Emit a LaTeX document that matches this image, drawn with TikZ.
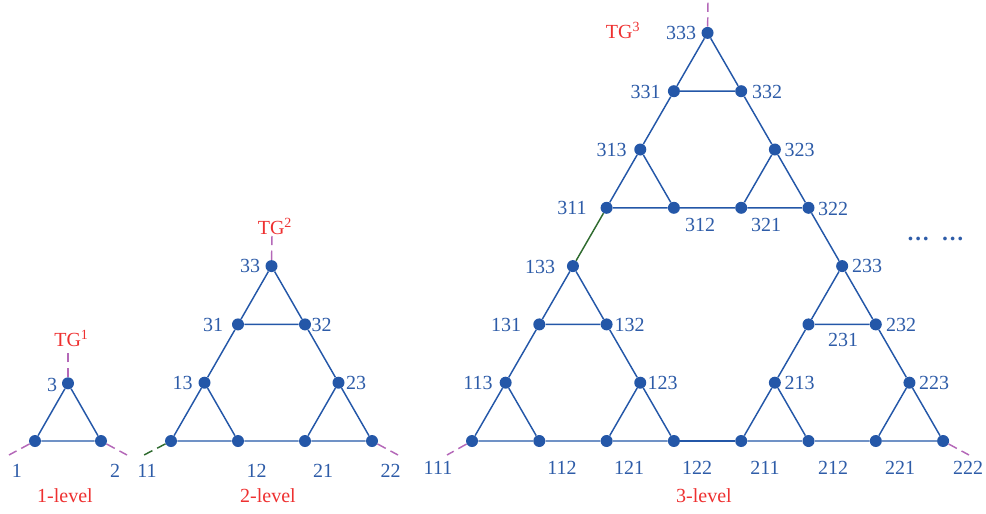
\documentclass[tikz,border=0pt]{standalone}
\usepackage{fontspec}
\setmainfont{Liberation Serif}
\definecolor{nblue}{HTML}{2457A8}
\definecolor{tblue}{HTML}{2E5CA8}
\definecolor{tred}{HTML}{EE3030}
\definecolor{spink}{HTML}{B468B8}
\definecolor{sgreen}{HTML}{2F6B2F}
\tikzset{
  dot/.style={circle,fill=nblue,inner sep=0pt,minimum size=9pt},
  lab/.style={text=tblue,inner sep=0pt,font=\fontsize{15}{18}\selectfont},
  ttl/.style={text=tred,inner sep=0pt,font=\fontsize{15}{18}\selectfont},
  edge/.style={draw=nblue,line width=1.1pt},
  bridgeg/.style={draw=sgreen,line width=1.1pt},
  stubp/.style={draw=spink,line width=1.1pt,dash pattern=on 7pt off 4pt},
  stubg/.style={draw=sgreen,line width=1.1pt,dash pattern=on 7pt off 4pt}
}
\begin{document}
\begin{tikzpicture}[x=0.75pt,y=-0.75pt]
\useasboundingbox (0,0) rectangle (986,514);
% ---------- level 1 ----------
\node[dot] (a1) at (35,441) {};
\node[dot] (a2) at (101,441) {};
\node[dot] (a3) at (68,383.3) {};
\draw[edge] (a1) -- (a2) (a2) -- (a3) (a3) -- (a1);
\coordinate (sa1) at (9,455);
\coordinate (sa2) at (127,455);
\coordinate (sa3) at (68,352);
\draw[stubp] (a1) -- (sa1);
\draw[stubp] (a2) -- (sa2);
\draw[stubp] (a3) -- (sa3);
\node[lab] (la1) at (17,471) {1};
\node[lab] (la2) at (115,471) {2};
\node[lab] (la3) at (52,385) {3};
\node[ttl] (tg1) at (71.5,338) {TG\textsuperscript{1}};
\node[ttl] (lv1) at (65,496) {1-level};
% ---------- level 2 ----------
\node[dot] (b11) at (171,441) {};
\node[dot] (b12) at (238,441) {};
\node[dot] (b21) at (305,441) {};
\node[dot] (b22) at (372,441) {};
\node[dot] (b13) at (204.5,382.7) {};
\node[dot] (b23) at (338.5,382.7) {};
\node[dot] (b31) at (238,324.4) {};
\node[dot] (b32) at (305,324.4) {};
\node[dot] (b33) at (271.5,266.1) {};
\draw[edge] (b11) -- (b12) (b12) -- (b13) (b13) -- (b11);
\draw[edge] (b21) -- (b22) (b22) -- (b23) (b23) -- (b21);
\draw[edge] (b31) -- (b32) (b32) -- (b33) (b33) -- (b31);
\draw[edge] (b12) -- (b21) (b13) -- (b31) (b23) -- (b32);
\coordinate (sb11) at (144,455);
\coordinate (sb22) at (398,455);
\coordinate (sb33) at (272,236);
\draw[stubg] (b11) -- (sb11);
\draw[stubp] (b22) -- (sb22);
\draw[stubp] (b33) -- (sb33);
\node[lab] (lb11) at (147,471) {11};
\node[lab] (lb12) at (256.5,471) {12};
\node[lab] (lb21) at (323,471) {21};
\node[lab] (lb22) at (390.5,471) {22};
\node[lab] (lb13) at (182.5,383) {13};
\node[lab] (lb23) at (356,383) {23};
\node[lab] (lb31) at (213,325) {31};
\node[lab] (lb32) at (321.5,325) {32};
\node[lab] (lb33) at (250,266) {33};
\node[ttl] (tg2) at (275,226) {TG\textsuperscript{2}};
\node[ttl] (lv2) at (268,496) {2-level};
% ---------- level 3 ----------
\node[dot] (c111) at (472,441) {};
\node[dot] (c112) at (539.3,441) {};
\node[dot] (c121) at (606.6,441) {};
\node[dot] (c122) at (673.9,441) {};
\node[dot] (c211) at (741.2,441) {};
\node[dot] (c212) at (808.5,441) {};
\node[dot] (c221) at (875.8,441) {};
\node[dot] (c222) at (943.1,441) {};
\node[dot] (c113) at (505.65,382.7) {};
\node[dot] (c123) at (640.25,382.7) {};
\node[dot] (c213) at (774.85,382.7) {};
\node[dot] (c223) at (909.45,382.7) {};
\node[dot] (c131) at (539.3,324.4) {};
\node[dot] (c132) at (606.6,324.4) {};
\node[dot] (c231) at (808.5,324.4) {};
\node[dot] (c232) at (875.8,324.4) {};
\node[dot] (c133) at (572.95,266.1) {};
\node[dot] (c233) at (842.15,266.1) {};
\node[dot] (c311) at (606.6,207.8) {};
\node[dot] (c312) at (673.9,207.8) {};
\node[dot] (c321) at (741.2,207.8) {};
\node[dot] (c322) at (808.5,207.8) {};
\node[dot] (c313) at (640.25,149.5) {};
\node[dot] (c323) at (774.85,149.5) {};
\node[dot] (c331) at (673.9,91.2) {};
\node[dot] (c332) at (741.2,91.2) {};
\node[dot] (c333) at (707.55,32.9) {};
% small triangles
\draw[edge] (c111) -- (c112) (c112) -- (c113) (c113) -- (c111);
\draw[edge] (c121) -- (c122) (c122) -- (c123) (c123) -- (c121);
\draw[edge] (c131) -- (c132) (c132) -- (c133) (c133) -- (c131);
\draw[edge] (c211) -- (c212) (c212) -- (c213) (c213) -- (c211);
\draw[edge] (c221) -- (c222) (c222) -- (c223) (c223) -- (c221);
\draw[edge] (c231) -- (c232) (c232) -- (c233) (c233) -- (c231);
\draw[edge] (c311) -- (c312) (c312) -- (c313) (c313) -- (c311);
\draw[edge] (c321) -- (c322) (c322) -- (c323) (c323) -- (c321);
\draw[edge] (c331) -- (c332) (c332) -- (c333) (c333) -- (c331);
% level-2 bridges
\draw[edge] (c112) -- (c121) (c113) -- (c131) (c123) -- (c132);
\draw[edge] (c212) -- (c221) (c213) -- (c231) (c223) -- (c232);
\draw[edge] (c312) -- (c321) (c313) -- (c331) (c323) -- (c332);
% level-3 bridges
\draw[edge] (c122) -- (c211);
\draw[edge] (c233) -- (c322);
\draw[bridgeg] (c133) -- (c311);
% stubs
\coordinate (sc111) at (447,455);
\coordinate (sc222) at (969,455);
\coordinate (sc333) at (708,2);
\draw[stubp] (c111) -- (sc111);
\draw[stubp] (c222) -- (sc222);
\draw[stubp] (c333) -- (sc333);
% labels
\node[lab] (lc111) at (438,468) {111};
\node[lab] (lc112) at (562,468) {112};
\node[lab] (lc121) at (629,468) {121};
\node[lab] (lc122) at (697,468) {122};
\node[lab] (lc211) at (765,468) {211};
\node[lab] (lc212) at (833,468) {212};
\node[lab] (lc221) at (900,468) {221};
\node[lab] (lc222) at (968,468) {222};
\node[lab] (lc113) at (478,383) {113};
\node[lab] (lc123) at (662.5,383) {123};
\node[lab] (lc213) at (799.5,383) {213};
\node[lab] (lc223) at (934,383) {223};
\node[lab] (lc131) at (506,325) {131};
\node[lab] (lc132) at (629.5,325) {132};
\node[lab] (lc231) at (843,339.5) {231};
\node[lab] (lc232) at (901,325) {232};
\node[lab] (lc133) at (540,266.5) {133};
\node[lab] (lc233) at (867,265.5) {233};
\node[lab] (lc311) at (572,208) {311};
\node[lab] (lc312) at (700,224.5) {312};
\node[lab] (lc321) at (766,224.5) {321};
\node[lab] (lc322) at (833,208.5) {322};
\node[lab] (lc313) at (611.5,150) {313};
\node[lab] (lc323) at (799.5,150) {323};
\node[lab] (lc331) at (645.5,92) {331};
\node[lab] (lc332) at (767,92) {332};
\node[lab] (lc333) at (681,33) {333};
\node[ttl] (tg3) at (623,30.5) {TG\textsuperscript{3}};
\node[ttl] (lv3) at (704,496) {3-level};
\node[lab,font=\fontsize{17}{20}\selectfont\bfseries] (dA) at (918.3,239) {…};
\node[lab,font=\fontsize{17}{20}\selectfont\bfseries] (dB) at (952.7,239) {…};
\end{tikzpicture}
\end{document}
